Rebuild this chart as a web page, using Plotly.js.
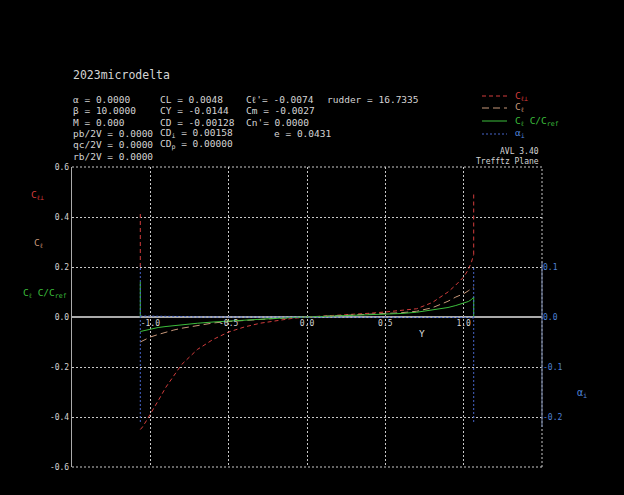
<!DOCTYPE html>
<html>
<head>
<meta charset="utf-8">
<script src="https://cdn.plot.ly/plotly-3.0.1.min.js"></script>
<style>html,body{margin:0;padding:0;background:#000;}</style>
</head>
<body>
<div id="chart" style="width:624px;height:495px;"></div>
<script>
// ---- data ----
const spanY = [-1.064, -1.05, -1.03, -1.0, -0.95, -0.9, -0.85, -0.8, -0.7, -0.6, -0.5, -0.4, -0.3, -0.2, -0.1, 0,
               0.1, 0.2, 0.3, 0.4, 0.5, 0.6, 0.7, 0.8, 0.85, 0.9, 0.95, 1.0, 1.03, 1.05, 1.064];
const clPerp = [-0.45, -0.44, -0.42, -0.39, -0.335, -0.28, -0.235, -0.19, -0.13, -0.09, -0.06, -0.04, -0.025, -0.014, -0.006, 0,
                0.003, 0.006, 0.01, 0.015, 0.02, 0.026, 0.033, 0.058, 0.08, 0.1, 0.128, 0.16, 0.19, 0.22, 0.25];
const clLocal = [-0.10, -0.096, -0.09, -0.08, -0.07, -0.06, -0.052, -0.045, -0.033, -0.024, -0.018, -0.013, -0.009, -0.006, -0.003, 0,
                 0.002, 0.004, 0.006, 0.009, 0.012, 0.017, 0.023, 0.037, 0.05, 0.063, 0.08, 0.093, 0.105, 0.113, 0.12];
const clCref = [-0.058, -0.056, -0.052, -0.047, -0.042, -0.038, -0.034, -0.031, -0.025, -0.02, -0.016, -0.012, -0.008, -0.005, -0.002, 0,
                0.002, 0.003, 0.005, 0.007, 0.01, 0.014, 0.019, 0.027, 0.032, 0.038, 0.046, 0.055, 0.062, 0.07, 0.08];
const alphaI = [0.002, 0.002, 0.001, 0.001, 0.001, 0.001, 0.001, 0.001, 0.0, 0.0, 0.0, 0.0, 0.0, 0.0, 0.0, 0,
                0.0, 0.0, 0.0, 0.0, 0.0, 0.0, 0.0, -0.001, -0.001, -0.001, -0.001, -0.001, -0.001, -0.002, -0.002];
// tip fin (vertical surfaces) values
const finLeftY = -1.064, finRightY = 1.064;
const finClPerpLeft = [0.20, 0.42], finClPerpRight = [0.25, 0.49];
const finClCrefLeft = [0.0, 0.14], finClCrefRight = [0.0, 0.08];
const finAlphaLeft = [-0.21, 0.103], finAlphaRight = [-0.21, 0.10];
const xTickVals = [-1.0, -0.5, 0.0, 0.5, 1.0];
const xTickText = ['-1.0', '-0.5', '0.0', '0.5', '1.0'];
const yTickVals = [-0.6, -0.4, -0.2, 0.0, 0.2, 0.4, 0.6];
const yTickText = ['-0.6', '-0.4', '-0.2', '0.0', '0.2', '0.4', '0.6'];
const y2TickVals = [-0.2, -0.1, 0.0, 0.1];
const y2TickText = ['-0.2', '-0.1', '0.0', '0.1'];

// ---- styles ----
const RED = '#d23c3c', TAN = '#c8987a', GREEN = '#3cbe3c', BLUE = '#4664c8', BLUETXT = '#4f82d6';
const GRID = '#c8c8c8', AXIS = '#aaaaaa', TXT = '#d4d4d4';
const FONT = 'DejaVu Sans Mono';

const W = 624, H = 495, ML = 72, MR = 82, MT = 167, MB = 28;
const PW = W - ML - MR, PH = H - MT - MB;
const px = x => (x - ML) / PW;
const py = y => (H - MB - y) / PH;

const redX = [...spanY, null, finLeftY, finLeftY, null, finRightY, finRightY];
const redY = [...clPerp, null, finClPerpLeft[0], finClPerpLeft[1], null, finClPerpRight[0], finClPerpRight[1]];
const grnX = [...spanY, null, finLeftY, finLeftY, null, finRightY, finRightY];
const grnY = [...clCref, null, finClCrefLeft[0], finClCrefLeft[1], null, finClCrefRight[0], finClCrefRight[1]];
const bluX = [...spanY, null, finLeftY, finLeftY, null, finRightY, finRightY];
const bluY = [...alphaI, null, finAlphaLeft[0], finAlphaLeft[1], null, finAlphaRight[0], finAlphaRight[1]];

const traces = [
  { x: redX, y: redY, type: 'scatter', mode: 'lines', connectgaps: false,
    line: { color: RED, width: 1, dash: '4px,3px' }, hoverinfo: 'skip' },
  { x: spanY, y: clLocal, type: 'scatter', mode: 'lines',
    line: { color: TAN, width: 1, dash: '7px,4px' }, hoverinfo: 'skip' },
  { x: bluX, y: bluY, type: 'scatter', mode: 'lines', yaxis: 'y2', connectgaps: false,
    line: { color: BLUE, width: 1, dash: '2px,2px' }, hoverinfo: 'skip' },
  { x: grnX, y: grnY, type: 'scatter', mode: 'lines', connectgaps: false,
    line: { color: GREEN, width: 1 }, hoverinfo: 'skip' }
];

const ann = [];
function txt(x, y, text, opts = {}) {
  ann.push(Object.assign({
    xref: 'paper', yref: 'paper', x: px(x), y: py(y), text: text, showarrow: false,
    xanchor: 'left', yanchor: 'middle',
    font: { family: FONT, size: 9.5, color: TXT }
  }, opts));
}
txt(71, 75, '2023microdelta', { font: { family: FONT, size: 11.5, color: TXT } });
const rows = [100, 111, 122, 133, 144, 156];
txt(71, rows[0], 'α = 0.0000');
txt(71, rows[1], 'β = 10.0000');
txt(71, rows[2], 'M = 0.000');
txt(71, rows[3], 'pb/2V = 0.0000');
txt(71, rows[4], 'qc/2V = 0.0000');
txt(71, rows[5], 'rb/2V = 0.0000');
txt(158, rows[0], 'CL = 0.0048');
txt(158, rows[1], 'CY = -0.0144');
txt(158, rows[2], 'CD = -0.00128');
txt(158, rows[3], 'CD<sub>i</sub> = 0.00158');
txt(158, rows[4], 'CD<sub>p</sub> = 0.00000');
txt(244, rows[0], 'Cℓ\'= -0.0074');
txt(244, rows[1], 'Cm = -0.0027');
txt(244, rows[2], 'Cn\'= 0.0000');
txt(272, rows[3], 'e = 0.0431');
txt(325, rows[0], 'rudder = 16.7335');

// legend (manual)
const legItems = [
  { y: 96, color: RED, dash: '4px,3px', text: 'C<sub>ℓ⊥</sub>' },
  { y: 108, color: TAN, dash: '7px,4px', text: 'C<sub>ℓ</sub>' },
  { y: 121, color: GREEN, dash: 'solid', text: 'C<sub>ℓ</sub> C/C<sub>ref</sub>' },
  { y: 134, color: BLUE, dash: '2px,2px', text: 'α<sub>i</sub>' }
];
const shapes = [];
legItems.forEach(it => {
  shapes.push({ type: 'line', xref: 'paper', yref: 'paper', x0: px(482), x1: px(507), y0: py(it.y), y1: py(it.y),
                line: { color: it.color, width: 1, dash: it.dash } });
  txt(513, it.y, it.text, { font: { family: FONT, size: 9.5, color: it.color === BLUE ? BLUETXT : it.color } });
});
txt(541, 151, 'AVL 3.40', { xanchor: 'right', font: { family: FONT, size: 8, color: TXT } });
txt(541, 161, 'Trefftz Plane', { xanchor: 'right', font: { family: FONT, size: 8, color: TXT } });

// axis labels
txt(37, 195, 'C<sub>ℓ⊥</sub>', { xanchor: 'center', font: { family: FONT, size: 9.5, color: RED } });
txt(38, 243, 'C<sub>ℓ</sub>', { xanchor: 'center', font: { family: FONT, size: 9.5, color: TAN } });
txt(45, 293, 'C<sub>ℓ</sub> C/C<sub>ref</sub>', { xanchor: 'center', font: { family: FONT, size: 9.5, color: GREEN } });
txt(582, 393, 'α<sub>i</sub>', { xanchor: 'center', font: { family: FONT, size: 10, color: BLUETXT } });
txt(422, 333, 'Y', { xanchor: 'center', font: { family: FONT, size: 9.5, color: '#dcdcdc' } });

// frame pieces
const dotLine = { color: GRID, width: 1, dash: '2px,2px' };
shapes.push({ type: 'line', xref: 'paper', yref: 'paper', x0: 0, x1: 1, y0: 1, y1: 1, line: dotLine });
shapes.push({ type: 'line', xref: 'paper', yref: 'paper', x0: 0, x1: 1, y0: 0, y1: 0, line: dotLine });
shapes.push({ type: 'line', xref: 'paper', yref: 'paper', x0: 1, x1: 1, y0: 0, y1: 1, line: dotLine });
shapes.push({ type: 'line', xref: 'paper', yref: 'y2', x0: 1, x1: 1, y0: -0.22, y1: 0.11,
              line: { color: '#6a7898', width: 1.2 } });

const layout = {
  width: W, height: H,
  margin: { l: ML, r: MR, t: MT, b: MB, pad: 0 },
  paper_bgcolor: '#000', plot_bgcolor: '#000',
  showlegend: false,
  xaxis: {
    range: [-1.5, 1.5], anchor: 'free', position: 0.5,
    tickvals: xTickVals, ticktext: xTickText, ticks: '',
    tickfont: { family: FONT, size: 8, color: TXT },
    showgrid: true, gridcolor: GRID, gridwidth: 1, griddash: '2px,2px',
    zeroline: false, showline: false, fixedrange: true
  },
  yaxis: {
    range: [-0.6, 0.6], tickvals: yTickVals, ticktext: yTickText, ticks: '',
    tickfont: { family: FONT, size: 8, color: TXT },
    showgrid: true, gridcolor: GRID, gridwidth: 1, griddash: '2px,2px',
    zeroline: true, zerolinecolor: AXIS, zerolinewidth: 1.5,
    showline: true, linecolor: AXIS, linewidth: 1.2, fixedrange: true
  },
  yaxis2: {
    range: [-0.3, 0.3], overlaying: 'y', side: 'right', anchor: 'x',
    tickvals: y2TickVals, ticktext: y2TickText, ticks: '',
    tickfont: { family: FONT, size: 8, color: BLUETXT },
    showgrid: false, zeroline: false, showline: false, fixedrange: true
  },
  annotations: ann,
  shapes: shapes
};

Plotly.newPlot('chart', traces, layout, { displayModeBar: false, staticPlot: true });
</script>
</body>
</html>
